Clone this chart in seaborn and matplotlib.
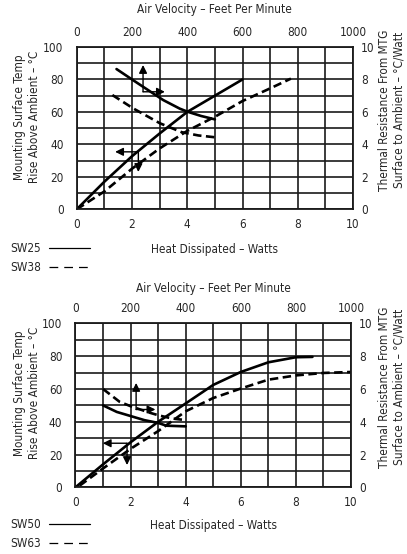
import matplotlib
matplotlib.use('Agg')
import matplotlib.pyplot as plt
from matplotlib.ticker import MultipleLocator
import seaborn as sns

# ---- upper chart: SW25 / SW38 ----
sw25_watts = [0, 1, 2, 3, 4, 5, 6]
sw25_temp = [0, 17, 32.7, 46.7, 60, 70, 80]
sw38_watts = [0, 1, 2, 3, 4, 5, 6, 7, 7.75]
sw38_temp = [0, 11, 25, 37.5, 48.3, 57, 66.7, 74.5, 80.5]

sw25_fpm = [144, 200, 240, 313, 373, 403, 450, 500]
sw25_res = [8.64, 8.0, 7.55, 6.73, 6.2, 6.0, 5.75, 5.54]
sw38_fpm = [129, 204, 301, 380, 440, 504]
sw38_res = [7.04, 6.22, 5.3, 4.75, 4.55, 4.43]

# arrows: corner, tip of first arrow, tip of second arrow (watts, temp)
top_arrows = [((2.40, 72.4), (2.40, 88.9), (3.19, 72.4)),
              ((2.23, 35.4), (1.39, 35.4), (2.23, 23.0))]

# ---- lower chart: SW50 / SW63 ----
sw50_watts = [0, 1, 2, 3, 4, 5, 6, 7, 8, 8.6]
sw50_temp = [0, 14, 27.5, 40, 51.2, 62.5, 70.4, 76.3, 79.4, 79.6]
sw63_watts = [0.15, 1, 2, 3, 4, 5, 6, 7, 8, 9, 10]
sw63_temp = [1, 11.5, 23.5, 34.3, 46.4, 54.5, 60.3, 65.7, 68.3, 69.8, 70.4]

sw50_fpm = [100, 150, 200, 250, 300, 330, 400]
sw50_res = [5.0, 4.6, 4.35, 4.1, 3.93, 3.76, 3.72]
sw63_fpm = [100, 160, 200, 235, 270, 300, 350, 400]
sw63_res = [6.0, 5.22, 4.95, 4.75, 4.55, 4.4, 4.2, 4.1]

bottom_arrows = [((2.2, 47.5), (2.2, 63.7), (2.9, 47.5)),
                 ((1.87, 26.9), (0.99, 26.9), (1.87, 13.6))]

FS = 8.5
DASH = (0, (3.2, 1.7))

sns.set_style('white')
plt.rcParams['font.family'] = ['DejaVu Sans']
plt.rcParams['font.stretch'] = 'condensed'
plt.rcParams['font.size'] = FS

fig = plt.figure(figsize=(4.07, 5.54), dpi=100)


def draw_panel(rect, wa, ta, wb, tb, fa, ra, fb, rb, arrows, names, ty, xly, yly, ryy, legy):
    ax = fig.add_axes(rect)
    axr = ax.twinx()
    axv = axr.twiny()

    sns.lineplot(x=wa, y=ta, ax=ax, color='black', lw=1.9, estimator=None)
    sns.lineplot(x=wb, y=tb, ax=ax, color='black', lw=1.9, linestyle=DASH, estimator=None)
    sns.lineplot(x=fa, y=ra, ax=axv, color='black', lw=1.9, estimator=None)
    sns.lineplot(x=fb, y=rb, ax=axv, color='black', lw=1.9, linestyle=DASH, estimator=None)

    ax.set_xlim(0, 10)
    ax.set_ylim(0, 100)
    axr.set_ylim(0, 10)
    axv.set_xlim(0, 1000)

    ax.xaxis.set_major_locator(MultipleLocator(2))
    ax.xaxis.set_minor_locator(MultipleLocator(1))
    ax.yaxis.set_major_locator(MultipleLocator(20))
    ax.yaxis.set_minor_locator(MultipleLocator(10))
    axr.yaxis.set_major_locator(MultipleLocator(2))
    axv.xaxis.set_major_locator(MultipleLocator(200))
    ax.grid(which='both', color='#1a1a1a', lw=1.2)

    ax.tick_params(axis='x', length=0, which='both', pad=6.5, labelsize=FS)
    ax.tick_params(axis='y', length=0, which='both', pad=9.5, labelsize=FS)
    axr.tick_params(axis='y', length=0, pad=5.8, labelsize=FS)
    axv.tick_params(axis='x', length=0, pad=6, labelsize=FS)
    for a in (ax, axr, axv):
        a.set_xlabel('')
        a.set_ylabel('')
    for s in ax.spines.values():
        s.set_linewidth(1.3)
        s.set_color('#1a1a1a')
    for a in (axr, axv):
        for s in a.spines.values():
            s.set_visible(False)

    for corner, tip1, tip2 in arrows:
        for tip in (tip1, tip2):
            ax.annotate('', xy=tip, xytext=corner,
                        arrowprops=dict(arrowstyle='-|>,head_length=0.6,head_width=0.3',
                                        lw=1.0, color='black', mutation_scale=8,
                                        shrinkA=0, shrinkB=0))

    cx = rect[0] + rect[2] / 2
    fig.text(cx, ty, 'Air Velocity – Feet Per Minute', ha='center', va='center', fontsize=FS)
    fig.text(cx, xly, 'Heat Dissipated – Watts', ha='center', va='center', fontsize=FS)
    fig.text(0.066, yly, 'Mounting Surface Temp\nRise Above Ambient – °C',
             ha='center', va='center', rotation=90, fontsize=FS, linespacing=1.15)
    fig.text(0.962, ryy, 'Thermal Resistance From MTG\nSurface to Ambient – °C/Watt',
             ha='center', va='center', rotation=90, fontsize=FS, linespacing=1.15)

    leg = ax.legend(handles=ax.lines[:2], labels=names, loc='center left',
                    bbox_to_anchor=(0.0246, legy), bbox_transform=fig.transFigure,
                    frameon=False, markerfirst=False, handlelength=3.5,
                    handletextpad=0.7, labelspacing=0.45, borderpad=0,
                    borderaxespad=0, fontsize=FS)
    hl = leg.get_lines()
    for h in hl:
        h.set_linewidth(0.9)
    hl[1].set_linestyle((0, (7, 4.8)))


draw_panel([0.1885, 0.6222, 0.679, 0.293],
           sw25_watts, sw25_temp, sw38_watts, sw38_temp,
           sw25_fpm, sw25_res, sw38_fpm, sw38_res, top_arrows, ['SW25', 'SW38'],
           0.982, 0.5505, 0.789, 0.8014, 0.5343)
draw_panel([0.1855, 0.1204, 0.677, 0.2957],
           sw50_watts, sw50_temp, sw63_watts, sw63_temp,
           sw50_fpm, sw50_res, sw63_fpm, sw63_res, bottom_arrows, ['SW50', 'SW63'],
           0.4801, 0.0523, 0.2906, 0.3014, 0.0361)

fig.savefig('out.png', dpi=100)
